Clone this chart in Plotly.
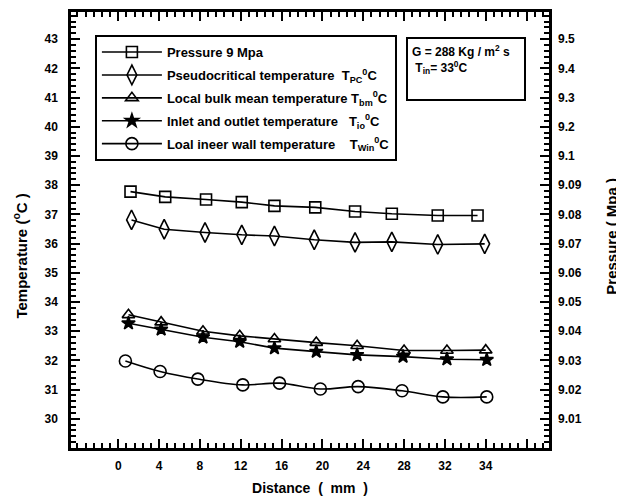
import numpy as np
import plotly.graph_objects as go

# ---------------- data (x in axis units; tick "34" sits at axis unit 36) ----------------
x_ticks = [0, 4, 8, 12, 16, 20, 24, 28, 32, 36, 40]
x_tick_labels = ["0", "4", "8", "12", "16", "20", "24", "28", "32", "34", ""]

temp_ticks = [30, 31, 32, 33, 34, 35, 36, 37, 38, 39, 40, 41, 42, 43]
pressure_tick_values = [9.01, 9.02, 9.03, 9.04, 9.05, 9.06, 9.07, 9.08, 9.09,
                        9.1, 9.2, 9.3, 9.4, 9.5]
pressure_tick_labels = ["9.01", "9.02", "9.03", "9.04", "9.05", "9.06", "9.07",
                        "9.08", "9.09", "9.1", "9.2", "9.3", "9.4", "9.5"]

x_pressure = [1.2, 4.6, 8.6, 12.1, 15.3, 19.3, 23.2, 26.8, 31.3, 35.2]
pressure_mpa = [9.0878, 9.0860, 9.0851, 9.0842, 9.0829, 9.0824, 9.0810,
                9.0802, 9.0796, 9.0796]

x_pseudo = [1.3, 4.5, 8.5, 12.1, 15.3, 19.2, 23.2, 26.8, 31.3, 35.9]
t_pseudo = [36.81, 36.49, 36.38, 36.30, 36.26, 36.13, 36.04, 36.06, 35.97, 35.99]

x_bulk = [1.0, 4.2, 8.3, 11.9, 15.3, 19.4, 23.4, 28.0, 32.2, 36.0]
t_bulk = [33.56, 33.31, 33.00, 32.84, 32.73, 32.61, 32.50, 32.34, 32.34, 32.35]

x_io = [1.0, 4.2, 8.3, 11.9, 15.3, 19.4, 23.4, 27.9, 32.2, 36.1]
t_io = [33.27, 33.06, 32.79, 32.64, 32.42, 32.30, 32.19, 32.13, 32.04, 32.02]

x_wall = [0.7, 4.1, 7.8, 12.2, 15.8, 19.8, 23.5, 27.8, 31.8, 36.1]
t_wall = [31.98, 31.62, 31.36, 31.16, 31.22, 31.02, 31.10, 30.96, 30.75, 30.75]

# pressure plotted through the right-axis scale (its tick table)
pressure_on_axis = np.interp(pressure_mpa, pressure_tick_values, temp_ticks)

FONT = "Liberation Sans"
Y_RANGE = [29.0, 43.93]
X_RANGE = [-4.63, 42.2]

fig = go.Figure()

def add(x, y, name, symbol, size, shape="linear", group="g"):
    fig.add_trace(go.Scatter(
        x=x, y=y, name=name, mode="lines+markers", legendgroup=group,
        line=dict(color="black", width=1.6, shape=shape),
        marker=dict(symbol=symbol, size=size, color="black",
                    line=dict(color="black", width=1.6)),
    ))

add(x_pressure, pressure_on_axis, "Pressure 9 Mpa", "square-open", 11, group="a")
add(x_pseudo, t_pseudo,
    "Pseudocritical temperature  T<sub>PC</sub><sup>0</sup>C",
    "diamond-tall-open", 14, group="b")
add(x_bulk, t_bulk,
    "Local bulk mean temperature T<sub>bm</sub><sup>0</sup>C",
    "triangle-up-open", 11, group="c")
add(x_io, t_io,
    "Inlet and outlet temperature   T<sub>io</sub><sup>0</sup>C",
    "star", 10, group="d")
add(x_wall, t_wall,
    "Loal ineer wall temperature    T<sub>Win</sub><sup>0</sup>C",
    "circle-open", 12, shape="spline", group="e")

# dummy trace on y2 so the right axis is drawn
fig.add_trace(go.Scatter(x=[None], y=[None], yaxis="y2", showlegend=False))

tickfont = dict(family=FONT, size=12, color="black", weight="bold")

fig.update_layout(
    width=616, height=493,
    margin=dict(l=63, r=75, t=4, b=53),
    paper_bgcolor="white", plot_bgcolor="white",
    font=dict(family=FONT, color="black"),
    showlegend=True,
    legend=dict(
        x=0.05, y=0.947, xanchor="left", yanchor="top",
        bordercolor="black", borderwidth=2, bgcolor="white",
        font=dict(family=FONT, size=13, color="black", weight="bold"),
        itemwidth=60, tracegroupgap=3,
    ),
    xaxis=dict(
        range=X_RANGE, tickvals=x_ticks, ticktext=x_tick_labels,
        ticks="inside", ticklen=9, tickwidth=2, tickcolor="black",
        minor=dict(dtick=0.8, tick0=0, ticks="inside", ticklen=5,
                   tickwidth=1.5, tickcolor="black"),
        showline=True, linewidth=2.5, linecolor="black", mirror="ticks",
        showgrid=False, zeroline=False, tickfont=tickfont,
        ticklabelstandoff=5, automargin=False,
        title=dict(text="Distance  (  mm  )", standoff=12,
                   font=dict(family=FONT, size=14, color="black", weight="bold")),
    ),
    yaxis=dict(
        range=Y_RANGE, tickvals=temp_ticks,
        ticks="inside", ticklen=9, tickwidth=2, tickcolor="black",
        minor=dict(dtick=0.2, tick0=0, ticks="inside", ticklen=5,
                   tickwidth=1.5, tickcolor="black"),
        showline=True, linewidth=2.5, linecolor="black", mirror=True,
        showgrid=False, zeroline=False, tickfont=tickfont,
        ticklabelstandoff=8, automargin=False,
    ),
    yaxis2=dict(
        overlaying="y", side="right", range=Y_RANGE,
        tickvals=temp_ticks, ticktext=pressure_tick_labels,
        ticks="inside", ticklen=9, tickwidth=2, tickcolor="black",
        minor=dict(dtick=0.2, tick0=0, ticks="inside", ticklen=5,
                   tickwidth=1.5, tickcolor="black"),
        showline=False, showgrid=False, zeroline=False, tickfont=tickfont,
        ticklabelstandoff=8, automargin=False,
    ),
)

fig.add_annotation(
    xref="paper", yref="paper", x=-0.108, y=0.44, xanchor="center", yanchor="middle",
    text="Temperature (<sup>o</sup>C )", textangle=-90, showarrow=False,
    font=dict(family=FONT, size=15, color="black", weight="bold"),
)
fig.add_annotation(
    xref="paper", yref="paper", x=1.13, y=0.485, xanchor="center", yanchor="middle",
    text="Pressure ( Mpa )", textangle=-90, showarrow=False,
    font=dict(family=FONT, size=15, color="black", weight="bold"),
)
fig.add_annotation(
    xref="paper", yref="paper", x=0.70, y=0.943, xanchor="left", yanchor="top",
    text="G = 288 Kg / m<sup>2</sup> s<br> T<sub>in</sub>= 33<sup>0</sup>C",
    align="left", valign="top", width=108, height=52, showarrow=False,
    bordercolor="black", borderwidth=2, borderpad=4, bgcolor="white",
    font=dict(family=FONT, size=12, color="black", weight="bold"),
)

fig.write_html("out.html")
